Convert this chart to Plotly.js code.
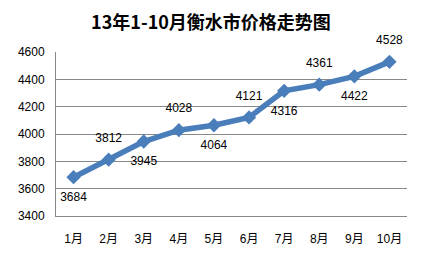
<!DOCTYPE html>
<html><head><meta charset="utf-8">
<script src="https://cdn.plot.ly/plotly-3.0.1.min.js"></script>
<style>html,body{margin:0;padding:0;background:#fff}#c{width:422px;height:262px}</style>
</head><body><div id="c"></div>
<script>
const months = ["1月","2月","3月","4月","5月","6月","7月","8月","9月","10月"];
const prices = [3684,3812,3945,4028,4064,4121,4316,4361,4422,4528];
const labelPos = ["bottom center","top center","bottom center","top center","bottom center","top center","bottom center","top center","bottom center","top center"];
const yTicks = [3400,3600,3800,4000,4200,4400,4600];

Plotly.newPlot("c", [{
  x: months, y: prices, type: "scatter", mode: "lines+markers",
  line: {color: "#4a7ebb", width: 5.5},
  marker: {symbol: "diamond", size: 11, color: "#4a7ebb"},
  cliponaxis: false, hoverinfo: "none"
},{
  x: months, y: prices, type: "scatter", mode: "markers+text",
  text: prices.map(String), textposition: labelPos,
  textfont: {family: "Liberation Sans", size: 12, color: "#000"},
  marker: {size: 22, color: "rgba(0,0,0,0)"},
  cliponaxis: false, hoverinfo: "none"
}], {
  width: 422, height: 262,
  margin: {l: 56, r: 15, t: 52, b: 46},
  paper_bgcolor: "#fff", plot_bgcolor: "#fff",
  showlegend: false,
  title: {text: "13年1-10月衡水市价格走势图", x: 0.5, xanchor: "center", y: 0.915, yanchor: "middle",
    font: {family: "Noto Sans CJK SC", size: 18, color: "#000", weight: "bold"}},
  xaxis: {type: "category", range: [-0.5, months.length - 0.5], automargin: false, showgrid: false, showline: true, linecolor: "#888", linewidth: 1,
    ticks: "", tickfont: {family: "Liberation Sans, Noto Sans CJK SC", size: 12, color: "#000"}, ticklabelstandoff: 12, fixedrange: true},
  yaxis: {range: [3400, 4600], automargin: false, tickvals: yTicks, ticktext: yTicks.map(String),
    showgrid: true, gridcolor: "#888", gridwidth: 1, showline: true, linecolor: "#888", linewidth: 1,
    zeroline: false, ticks: "", tickfont: {family: "Liberation Sans", size: 12, color: "#000"}, ticklabelstandoff: 8, fixedrange: true}
}, {displayModeBar: false, staticPlot: true});
</script></body></html>
